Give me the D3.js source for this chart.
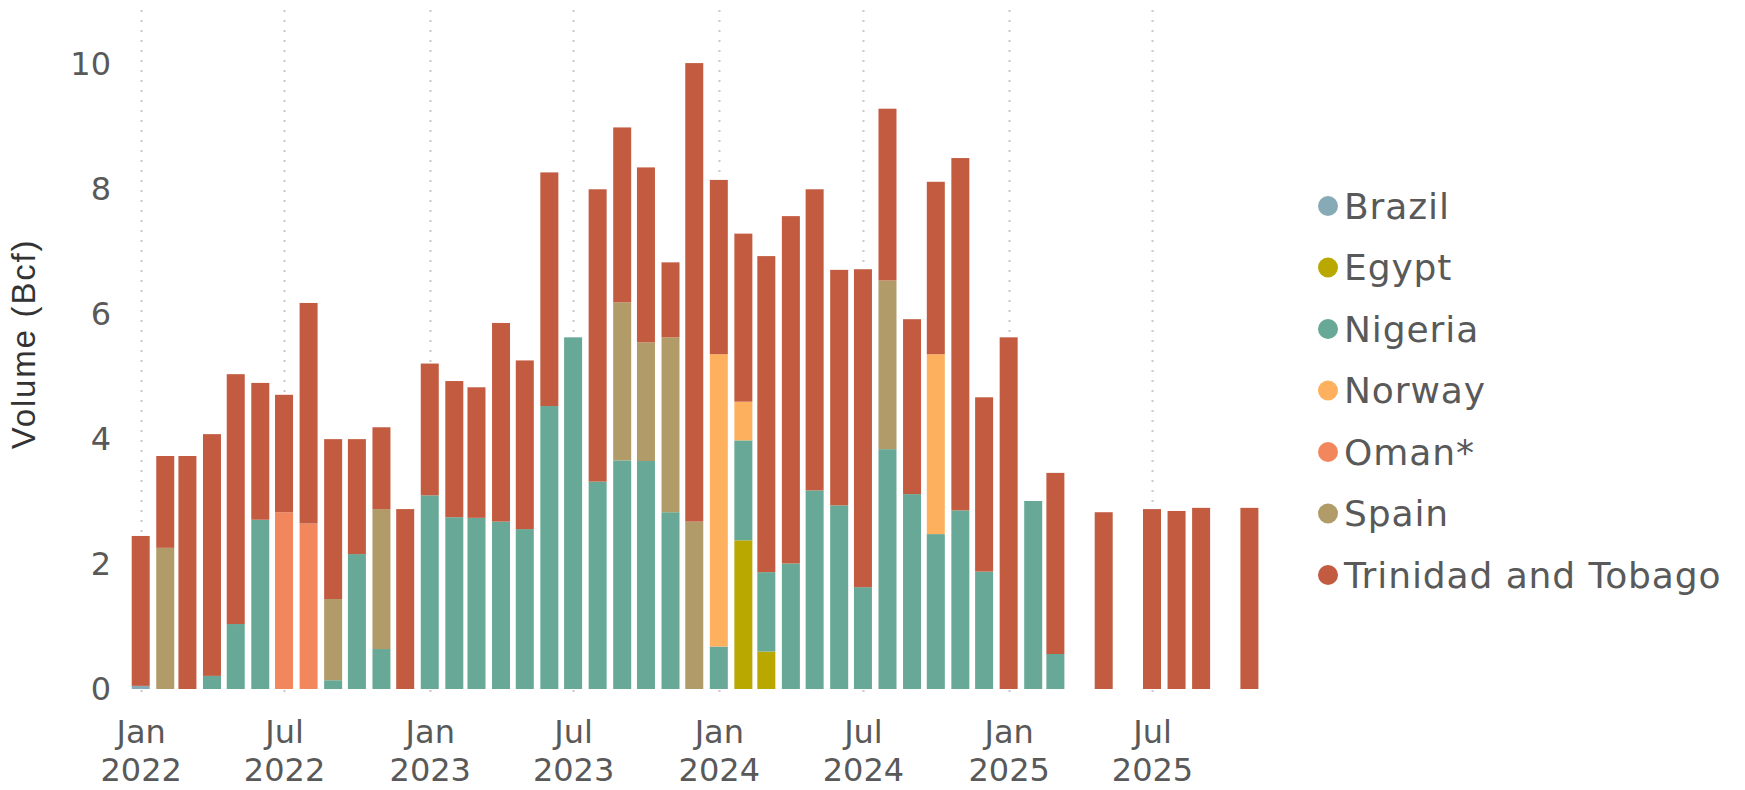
<!DOCTYPE html>
<html>
<head>
<meta charset="utf-8">
<script src="https://cdn.jsdelivr.net/npm/d3@7"></script>
<style>
  html, body { margin: 0; padding: 0; background: #fff; }
  svg { display: block; }
</style>
</head>
<body>
<svg id="chart" width="1745" height="790"></svg>
<script>
// ---- Data ----
const months = [
  "2022-01","2022-02","2022-03","2022-04","2022-05","2022-06","2022-07","2022-08","2022-09","2022-10","2022-11","2022-12",
  "2023-01","2023-02","2023-03","2023-04","2023-05","2023-06","2023-07","2023-08","2023-09","2023-10","2023-11","2023-12",
  "2024-01","2024-02","2024-03","2024-04","2024-05","2024-06","2024-07","2024-08","2024-09","2024-10","2024-11","2024-12",
  "2025-01","2025-02","2025-03","2025-04","2025-05","2025-06","2025-07","2025-08","2025-09","2025-10","2025-11"
];
const seriesNames = ["Brazil","Egypt","Nigeria","Norway","Oman*","Spain","Trinidad and Tobago"];
const seriesColors = ["#87abb6","#b9a800","#67a996","#fdb15e","#f2875e","#b19c69","#c25b40"];

const brazil  = [0.05,0,0,0,0,0,0,0,0,0,0,0, 0,0,0,0,0,0,0,0,0,0,0,0, 0,0,0,0,0,0,0,0,0,0,0,0, 0,0,0,0,0,0,0,0,0,0,0];
const egypt   = [0,0,0,0,0,0,0,0,0,0,0,0, 0,0,0,0,0,0,0,0,0,0,0,0, 0,2.38,0.60,0,0,0,0,0,0,0,0,0, 0,0,0,0,0,0,0,0,0,0,0];
const nigeria = [0,0,0,0.21,1.04,2.71,0,0,0.14,2.16,0.64,0, 3.10,2.75,2.74,2.68,2.56,4.53,5.63,3.32,3.66,3.65,2.83,0, 0.68,1.60,1.27,2.01,3.18,2.94,1.63,3.84,3.12,2.48,2.86,1.88, 0,3.01,0.56,0,0,0,0,0,0,0,0];
const norway  = [0,0,0,0,0,0,0,0,0,0,0,0, 0,0,0,0,0,0,0,0,0,0,0,0, 4.68,0.62,0,0,0,0,0,0,0,2.88,0,0, 0,0,0,0,0,0,0,0,0,0,0];
const oman    = [0,0,0,0,0,0,2.83,2.65,0,0,0,0, 0,0,0,0,0,0,0,0,0,0,0,0, 0,0,0,0,0,0,0,0,0,0,0,0, 0,0,0,0,0,0,0,0,0,0,0];
const spain   = [0,2.26,0,0,0,0,0,0,1.30,0,2.24,0, 0,0,0,0,0,0,0,0,2.53,1.90,2.80,2.68, 0,0,0,0,0,0,0,2.70,0,0,0,0, 0,0,0,0,0,0,0,0,0,0,0];
const trinidad= [2.40,1.47,3.73,3.87,4.00,2.19,1.88,3.53,2.56,1.84,1.31,2.88, 2.11,2.18,2.09,3.18,2.70,3.74,0,4.68,2.80,2.80,1.20,7.34, 2.79,2.69,5.06,5.56,4.82,3.77,5.09,2.75,2.80,2.76,5.64,2.79, 5.63,0,2.90,0,2.83,0,2.88,2.85,2.90,0,2.90];

const yTicks = [0,2,4,6,8,10];
const xTickDates = ["2022-01","2022-07","2023-01","2023-07","2024-01","2024-07","2025-01","2025-07"];
const xTickLabels = [["Jan","2022"],["Jul","2022"],["Jan","2023"],["Jul","2023"],["Jan","2024"],["Jul","2024"],["Jan","2025"],["Jul","2025"]];
const yTitle = "Volume (Bcf)";

// ---- Build table ----
const seriesValues = [brazil, egypt, nigeria, norway, oman, spain, trinidad];
const parseMonth = d3.timeParse("%Y-%m");
const table = months.map((m, i) => {
  const row = { date: parseMonth(m) };
  seriesNames.forEach((s, k) => row[s] = seriesValues[k][i]);
  return row;
});
const stacked = d3.stack().keys(seriesNames)(table);

// ---- Layout ----
const svg = d3.select("#chart");
const plotTop = 10, plotBottom = 689;
const x = d3.scaleTime()
  .domain([parseMonth("2022-01"), parseMonth("2025-07")])
  .range([140.7, 1152]);
const y = d3.scaleLinear().domain([0, 10.87]).range([plotBottom, plotTop]);
const color = d3.scaleOrdinal().domain(seriesNames).range(seriesColors);
const barW = 18;
const fontFam = "'DejaVu Sans', Verdana, sans-serif";

// gridlines (vertical dotted)
svg.append("g").selectAll("line")
  .data(xTickDates.map(parseMonth))
  .join("line")
  .attr("x1", d => Math.round(x(d)) + 0.5)
  .attr("x2", d => Math.round(x(d)) + 0.5)
  .attr("y1", plotTop)
  .attr("y2", plotBottom + 4)
  .attr("stroke", "#c8c8c8")
  .attr("stroke-width", 2)
  .attr("stroke-dasharray", "2,8");

// bars
svg.append("g").selectAll("g")
  .data(stacked)
  .join("g")
  .attr("fill", d => color(d.key))
  .selectAll("rect")
  .data(d => d.filter(p => p[1] - p[0] > 0))
  .join("rect")
  .attr("x", d => x(d.data.date) - barW / 2)
  .attr("width", barW)
  .attr("y", d => y(d[1]))
  .attr("height", d => y(d[0]) - y(d[1]));

// y axis labels
const yAxis = d3.axisLeft(y).tickValues(yTicks).tickSize(0).tickPadding(0);
const yg = svg.append("g").attr("transform", "translate(111,0)").call(yAxis);
yg.select(".domain").remove();
yg.selectAll("text")
  .attr("font-family", fontFam)
  .attr("font-size", 32)
  .attr("fill", "#595959");

// x axis labels (two-line)
const xAxis = d3.axisBottom(x).tickValues(xTickDates.map(parseMonth)).tickSize(0).tickFormat(() => "");
const xg = svg.append("g").attr("transform", `translate(0,${plotBottom})`).call(xAxis);
xg.select(".domain").remove();
xg.selectAll(".tick text").each(function(d, i) {
  const t = d3.select(this)
    .attr("font-family", fontFam)
    .attr("font-size", 32)
    .attr("fill", "#595959")
    .attr("y", 0)
    .attr("dy", null);
  t.append("tspan").attr("x", 0).attr("y", 54).text(xTickLabels[i][0]);
  t.append("tspan").attr("x", 0).attr("y", 92).text(xTickLabels[i][1]);
});

// y title
svg.append("text")
  .attr("transform", "translate(35,344) rotate(-90)")
  .attr("text-anchor", "middle")
  .attr("font-family", "'Liberation Sans', Arial, sans-serif")
  .attr("font-size", 33)
  .attr("letter-spacing", 1.8)
  .attr("fill", "#333")
  .text(yTitle);

// legend
const lg = svg.append("g").attr("transform", "translate(1328,206)");
const items = lg.selectAll("g").data(seriesNames).join("g")
  .attr("transform", (d, i) => `translate(0,${i * 61.5})`);
items.append("circle").attr("r", 10).attr("fill", d => color(d));
items.append("text")
  .attr("x", 16)
  .attr("dy", "0.36em")
  .attr("font-family", fontFam)
  .attr("font-size", 36)
  .attr("letter-spacing", 0.9)
  .attr("fill", "#595959")
  .text(d => d);
</script>
</body>
</html>
